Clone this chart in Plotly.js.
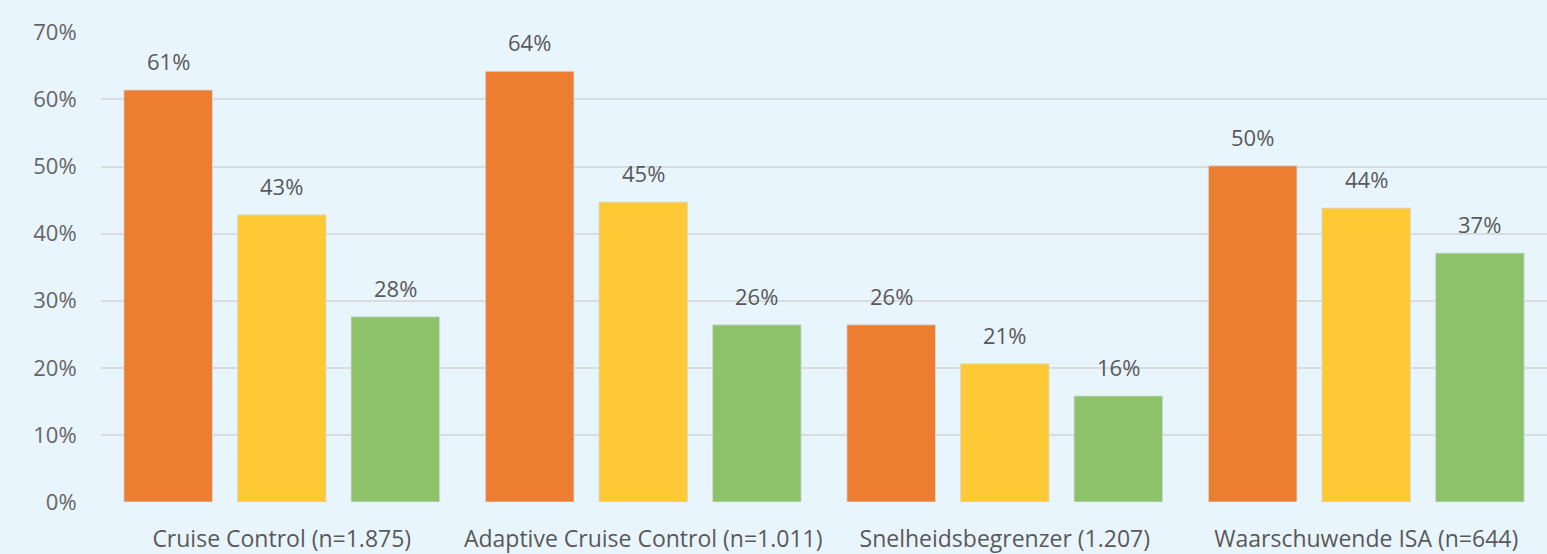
<!DOCTYPE html>
<html>
<head>
<meta charset="utf-8">
<script src="https://cdn.plot.ly/plotly-3.0.1.min.js"></script>
<style>
html,body{margin:0;padding:0;background:#E9F5FD;}
#chart{width:1547px;height:554px;}
</style>
</head>
<body>
<div id="chart"></div>
<script>
const categories = ["Cruise Control (n=1.875)", "Adaptive Cruise Control (n=1.011)", "Snelheidsbegrenzer (1.207)", "Waarschuwende ISA (n=644)"];
const seriesA = [61.4, 64.2, 26.4, 50.1];
const seriesB = [42.8, 44.7, 20.6, 43.8];
const seriesC = [27.6, 26.4, 15.8, 37.1];
const yTickVals = [0, 10, 20, 30, 40, 50, 60, 70];
const yTickText = ["0%", "10%", "20%", "30%", "40%", "50%", "60%", "70%"];

const colors = ["#ED7D31", "#FDCA35", "#8DC26A"];
const series = [seriesA, seriesB, seriesC];

const traces = series.map((vals, i) => ({
  type: "bar",
  x: categories,
  y: vals,
  marker: {color: colors[i], line: {color: "rgba(210,220,225,0.8)", width: 1}},
  hoverinfo: "skip",
  showlegend: false
}));

const offsets = [-1, 0, 1];
const annotations = [];
series.forEach((vals, i) => {
  vals.forEach((v, j) => {
    annotations.push({
      x: j, xref: "x", y: v, yref: "y",
      text: Math.round(v) + "%",
      showarrow: false,
      xshift: offsets[i] * 113.5,
      yanchor: "bottom",
      yshift: 12,
      font: {family: "Open Sans, sans-serif", size: 22, color: "#595959"}
    });
  });
});

const layout = {
  width: 1547, height: 554,
  paper_bgcolor: "#E9F5FD",
  plot_bgcolor: "#E9F5FD",
  margin: {l: 101, r: 0, t: 32, b: 52},
  barmode: "group",
  bargap: 0.0575,
  bargroupgap: 0.22,
  xaxis: {
    type: "category",
    showgrid: false, zeroline: false, showline: false,
    ticks: "outside", ticklen: 16, tickcolor: "rgba(0,0,0,0)",
    tickfont: {family: "Open Sans, sans-serif", size: 23, color: "#595959"}
  },
  yaxis: {
    range: [0, 70.05],
    tickvals: yTickVals, ticktext: yTickText,
    showgrid: true, gridcolor: "#D9DCDF", gridwidth: 2,
    zeroline: false, showline: false,
    ticks: "outside", ticklen: 19, tickcolor: "rgba(0,0,0,0)",
    tickfont: {family: "Open Sans, sans-serif", size: 22, color: "#666666"}
  },
  annotations: annotations
};

Plotly.newPlot("chart", traces, layout, {displayModeBar: false, staticPlot: true});
</script>
</body>
</html>
